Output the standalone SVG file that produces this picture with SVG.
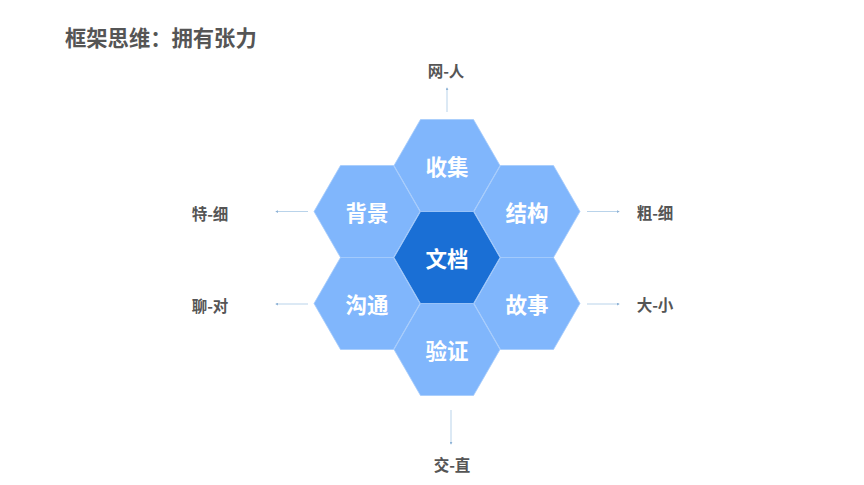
<svg xmlns="http://www.w3.org/2000/svg" xmlns:xlink="http://www.w3.org/1999/xlink" width="864" height="485" viewBox="0 0 864 485">
  <style>
    .hex { fill: #80b6fc; stroke: #a6cbfb; stroke-width: 0.8; }
    .hex-core { fill: #1a6fd5; stroke: #a6cbfb; stroke-width: 0.8; }
    .hex-label { font-family: "Noto Sans CJK SC", "Noto Sans", sans-serif; font-weight: 700; font-size: 21.5px; fill: #ffffff; text-anchor: middle; dominant-baseline: central; }
    .side-label { font-family: "Noto Sans CJK SC", "Noto Sans", sans-serif; font-weight: 700; font-size: 15.5px; fill: #555555; text-anchor: middle; dominant-baseline: central; }
    .title { font-family: "Noto Sans CJK SC", "Noto Sans", sans-serif; font-weight: 700; font-size: 21.3px; fill: #555555; dominant-baseline: central; }
    .conn { stroke: #b9d3ea; stroke-width: 1; fill: none; marker-end: url(#tip); }
  </style>
  <defs>
    <polygon id="hexShape" points="-53,0 -26.5,-46 26.5,-46 53,0 26.5,46 -26.5,46"/>
    <marker id="tip" viewBox="0 0 4 4" refX="3" refY="2" markerWidth="3" markerHeight="3" orient="auto" markerUnits="strokeWidth">
      <path d="M0,0 L4,2 L0,4 Z" fill="#8fb3d6"/>
    </marker>
  </defs>
  <rect width="864" height="485" fill="#ffffff"/>

  <text class="title" x="65" y="36">框架思维：拥有张力</text>

  <g id="connectors">
    <line class="conn" x1="447" y1="112" x2="447" y2="88"/>
    <line class="conn" x1="451" y1="410" x2="451" y2="444"/>
    <line class="conn" x1="308" y1="211.5" x2="276" y2="211.5"/>
    <line class="conn" x1="308" y1="304" x2="276" y2="304"/>
    <line class="conn" x1="587" y1="211.5" x2="619" y2="211.5"/>
    <line class="conn" x1="587" y1="304" x2="619" y2="304"/>
  </g>

  <g id="node-shouji">
    <use xlink:href="#hexShape" href="#hexShape" class="hex" transform="translate(447,165.5)"/>
    <text class="hex-label" x="447" y="165">收集</text>
  </g>
  <g id="node-beijing">
    <use xlink:href="#hexShape" href="#hexShape" class="hex" transform="translate(367,211.5)"/>
    <text class="hex-label" x="367" y="211">背景</text>
  </g>
  <g id="node-jiegou">
    <use xlink:href="#hexShape" href="#hexShape" class="hex" transform="translate(527,211.5)"/>
    <text class="hex-label" x="527" y="211">结构</text>
  </g>
  <g id="node-goutong">
    <use xlink:href="#hexShape" href="#hexShape" class="hex" transform="translate(367,303.5)"/>
    <text class="hex-label" x="367" y="303">沟通</text>
  </g>
  <g id="node-gushi">
    <use xlink:href="#hexShape" href="#hexShape" class="hex" transform="translate(527,303.5)"/>
    <text class="hex-label" x="527" y="303">故事</text>
  </g>
  <g id="node-yanzheng">
    <use xlink:href="#hexShape" href="#hexShape" class="hex" transform="translate(447,349.5)"/>
    <text class="hex-label" x="447" y="349">验证</text>
  </g>
  <g id="node-wendang">
    <use xlink:href="#hexShape" href="#hexShape" class="hex-core" transform="translate(447,257.5)"/>
    <text class="hex-label" x="447" y="257">文档</text>
  </g>

  <g id="label-top"><text class="side-label" x="446" y="70">网-人</text></g>
  <g id="label-bottom"><text class="side-label" x="452" y="464">交-直</text></g>
  <g id="label-left-top"><text class="side-label" x="210" y="212.5">特-细</text></g>
  <g id="label-left-bottom"><text class="side-label" x="210" y="304.5">聊-对</text></g>
  <g id="label-right-top"><text class="side-label" x="655" y="212">粗-细</text></g>
  <g id="label-right-bottom"><text class="side-label" x="655" y="304">大-小</text></g>
</svg>
